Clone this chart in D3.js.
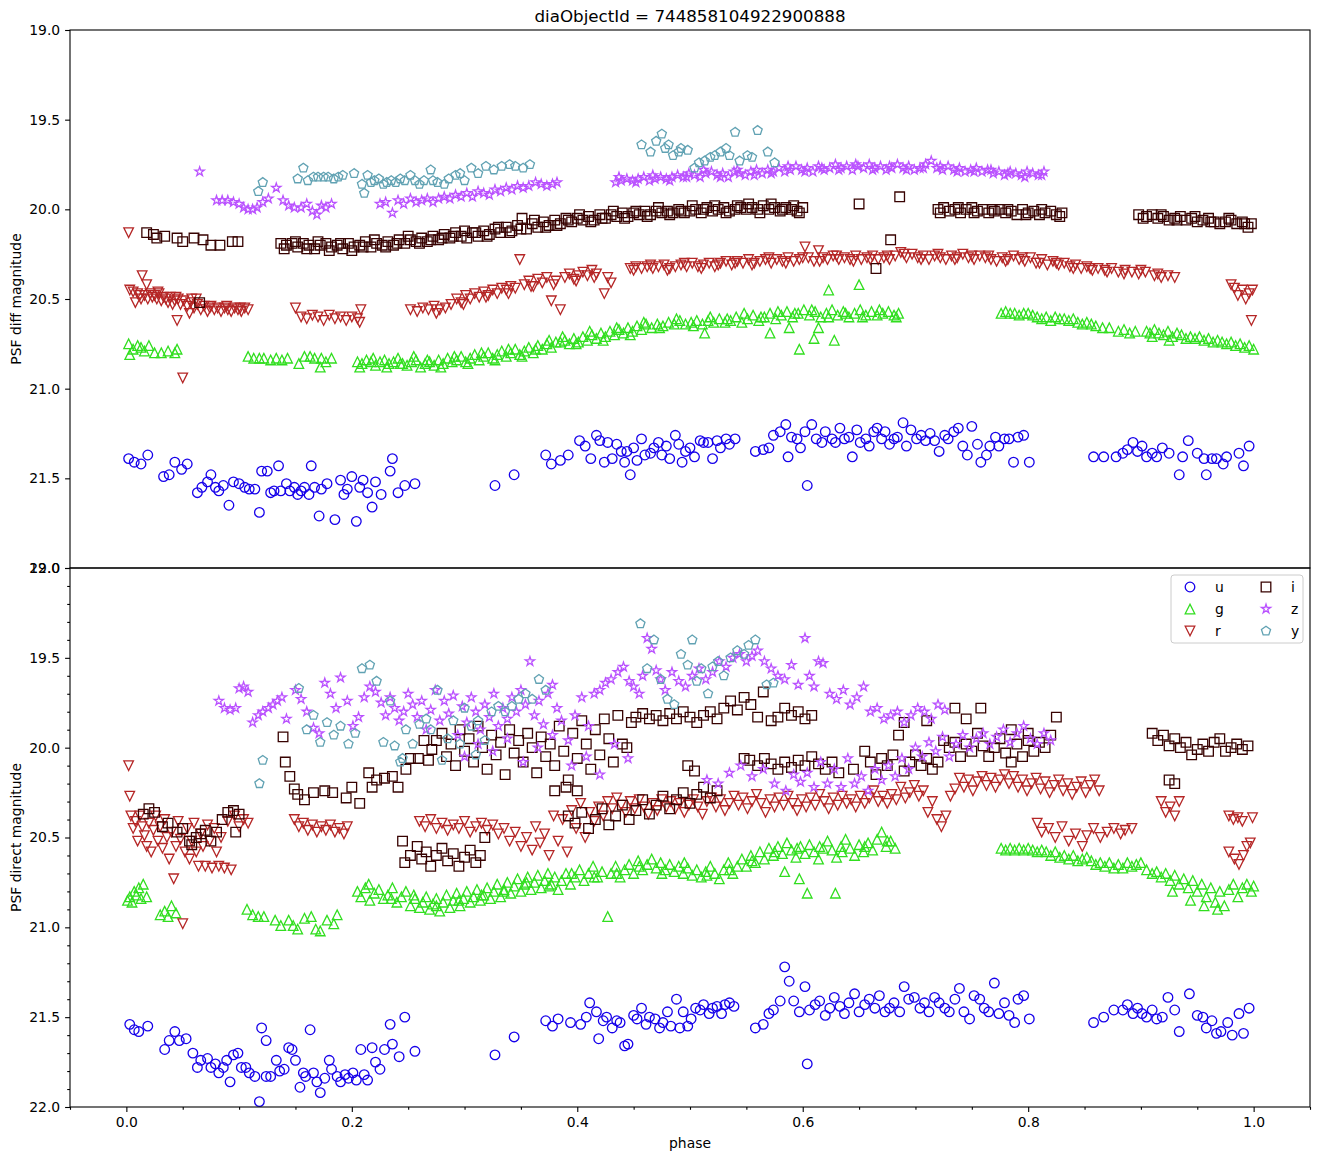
<!DOCTYPE html>
<html>
<head>
<meta charset="utf-8">
<script src="https://cdn.jsdelivr.net/npm/d3@7"></script>
<style>
  body { margin: 0; background: #fff; }
  svg text { font-family: "DejaVu Sans", sans-serif; fill: #000; }
</style>
</head>
<body>
<div id="chart"></div>
<script>
// Phase-folded light curve, two panels (diff / direct PSF magnitude)

const title = 'diaObjectId = 744858104922900888';
const bands = ['u', 'g', 'r', 'i', 'z', 'y'];
const bandColors = ['#1600ea', '#31de1f', '#b52626', '#370201', '#ba52ff', '#61a2b3'];
const bandMarkers = ['circle', 'triangleUp', 'triangleDown', 'square', 'star', 'pentagon'];
const xTicks = [0.0, 0.2, 0.4, 0.6, 0.8, 1.0];
const yTicks = [19.0, 19.5, 20.0, 20.5, 21.0, 21.5, 22.0];

// ---- top panel: PSF diff magnitude, [phase, mag] ----
const uTop = [[0.002,21.39],[0.007,21.41],[0.013,21.42],[0.019,21.37],[0.033,21.49],[0.038,21.48],[0.043,21.41],[0.049,21.45],[0.054,21.42],[0.063,21.58],[0.067,21.55],[0.072,21.52],[0.075,21.48],[0.079,21.55],[0.082,21.57],[0.086,21.54],[0.091,21.65],[0.095,21.52],[0.100,21.53],[0.105,21.55],[0.109,21.56],[0.114,21.56],[0.118,21.69],[0.120,21.46],[0.125,21.46],[0.128,21.58],[0.131,21.57],[0.135,21.43],[0.137,21.57],[0.142,21.53],[0.145,21.57],[0.149,21.55],[0.152,21.59],[0.155,21.57],[0.158,21.55],[0.162,21.59],[0.164,21.43],[0.167,21.55],[0.171,21.71],[0.173,21.56],[0.178,21.53],[0.185,21.73],[0.190,21.51],[0.193,21.59],[0.196,21.56],[0.200,21.49],[0.204,21.74],[0.207,21.55],[0.210,21.51],[0.214,21.58],[0.218,21.66],[0.221,21.52],[0.226,21.59],[0.234,21.46],[0.236,21.39],[0.241,21.58],[0.247,21.54],[0.256,21.53],[0.327,21.54],[0.344,21.48],[0.372,21.37],[0.377,21.42],[0.385,21.40],[0.392,21.37],[0.402,21.29],[0.407,21.32],[0.412,21.39],[0.417,21.26],[0.420,21.29],[0.424,21.41],[0.427,21.30],[0.431,21.39],[0.435,21.31],[0.439,21.35],[0.442,21.41],[0.444,21.35],[0.447,21.48],[0.450,21.33],[0.453,21.40],[0.457,21.28],[0.460,21.37],[0.465,21.36],[0.468,21.33],[0.472,21.30],[0.475,21.37],[0.479,21.32],[0.482,21.39],[0.487,21.26],[0.490,21.31],[0.493,21.41],[0.496,21.35],[0.500,21.33],[0.504,21.38],[0.509,21.29],[0.512,21.30],[0.516,21.30],[0.520,21.39],[0.524,21.29],[0.527,21.33],[0.532,21.28],[0.535,21.31],[0.540,21.28],[0.558,21.35],[0.565,21.34],[0.570,21.33],[0.574,21.26],[0.580,21.24],[0.585,21.20],[0.587,21.38],[0.590,21.27],[0.595,21.28],[0.598,21.33],[0.602,21.24],[0.604,21.54],[0.608,21.20],[0.612,21.28],[0.617,21.30],[0.620,21.24],[0.626,21.28],[0.629,21.30],[0.633,21.22],[0.637,21.28],[0.641,21.27],[0.644,21.38],[0.648,21.23],[0.651,21.30],[0.656,21.28],[0.659,21.32],[0.663,21.24],[0.666,21.22],[0.670,21.28],[0.673,21.24],[0.677,21.31],[0.681,21.28],[0.684,21.27],[0.689,21.19],[0.692,21.32],[0.696,21.23],[0.701,21.28],[0.705,21.26],[0.709,21.29],[0.713,21.25],[0.717,21.29],[0.721,21.35],[0.726,21.26],[0.729,21.28],[0.734,21.24],[0.738,21.22],[0.742,21.32],[0.746,21.37],[0.750,21.21],[0.755,21.31],[0.758,21.41],[0.763,21.37],[0.766,21.32],[0.771,21.27],[0.774,21.32],[0.779,21.28],[0.783,21.28],[0.787,21.41],[0.791,21.27],[0.796,21.26],[0.801,21.41],[0.858,21.38],[0.867,21.38],[0.878,21.38],[0.884,21.36],[0.888,21.34],[0.893,21.30],[0.897,21.35],[0.901,21.32],[0.905,21.38],[0.910,21.36],[0.914,21.38],[0.919,21.33],[0.925,21.36],[0.934,21.48],[0.937,21.38],[0.942,21.29],[0.950,21.36],[0.956,21.39],[0.958,21.48],[0.963,21.39],[0.967,21.39],[0.973,21.42],[0.976,21.38],[0.987,21.36],[0.991,21.43],[0.996,21.32]];

const gTop = [[0.002,20.75],[0.003,20.81],[0.006,20.78],[0.010,20.76],[0.013,20.77],[0.016,20.79],[0.020,20.76],[0.025,20.80],[0.031,20.80],[0.037,20.79],[0.043,20.80],[0.045,20.78],[0.108,20.82],[0.113,20.83],[0.118,20.83],[0.122,20.83],[0.128,20.84],[0.133,20.83],[0.138,20.84],[0.143,20.83],[0.153,20.86],[0.158,20.82],[0.163,20.82],[0.167,20.83],[0.172,20.88],[0.173,20.83],[0.177,20.85],[0.182,20.83],[0.205,20.85],[0.207,20.88],[0.209,20.86],[0.213,20.84],[0.217,20.85],[0.219,20.83],[0.221,20.87],[0.225,20.85],[0.229,20.84],[0.231,20.88],[0.233,20.86],[0.237,20.85],[0.241,20.83],[0.243,20.86],[0.245,20.86],[0.249,20.87],[0.253,20.85],[0.255,20.82],[0.257,20.84],[0.261,20.88],[0.265,20.86],[0.267,20.84],[0.269,20.85],[0.273,20.87],[0.277,20.84],[0.279,20.88],[0.281,20.86],[0.285,20.83],[0.289,20.85],[0.291,20.82],[0.293,20.84],[0.297,20.82],[0.301,20.85],[0.303,20.86],[0.305,20.83],[0.309,20.81],[0.313,20.84],[0.315,20.80],[0.317,20.82],[0.321,20.80],[0.325,20.83],[0.327,20.84],[0.329,20.81],[0.333,20.79],[0.337,20.82],[0.339,20.78],[0.341,20.80],[0.345,20.78],[0.349,20.81],[0.351,20.82],[0.353,20.79],[0.357,20.77],[0.361,20.80],[0.363,20.78],[0.365,20.76],[0.369,20.78],[0.373,20.75],[0.375,20.73],[0.377,20.77],[0.381,20.74],[0.385,20.74],[0.387,20.71],[0.389,20.73],[0.393,20.75],[0.397,20.72],[0.399,20.75],[0.401,20.74],[0.405,20.71],[0.409,20.73],[0.411,20.68],[0.413,20.70],[0.417,20.72],[0.421,20.69],[0.423,20.73],[0.425,20.71],[0.429,20.68],[0.433,20.70],[0.435,20.66],[0.437,20.67],[0.441,20.69],[0.445,20.66],[0.447,20.70],[0.449,20.68],[0.453,20.65],[0.457,20.67],[0.459,20.63],[0.461,20.64],[0.466,20.66],[0.471,20.64],[0.473,20.66],[0.476,20.65],[0.481,20.63],[0.486,20.64],[0.488,20.61],[0.491,20.62],[0.496,20.64],[0.501,20.63],[0.503,20.65],[0.506,20.62],[0.511,20.64],[0.513,20.69],[0.516,20.62],[0.518,20.60],[0.521,20.63],[0.526,20.61],[0.531,20.63],[0.533,20.61],[0.536,20.62],[0.541,20.60],[0.546,20.63],[0.548,20.58],[0.551,20.61],[0.556,20.59],[0.561,20.62],[0.563,20.60],[0.566,20.60],[0.571,20.58],[0.571,20.69],[0.576,20.61],[0.578,20.57],[0.581,20.59],[0.586,20.57],[0.588,20.66],[0.591,20.60],[0.593,20.58],[0.596,20.58],[0.597,20.78],[0.601,20.56],[0.606,20.59],[0.608,20.56],[0.610,20.72],[0.611,20.57],[0.614,20.66],[0.616,20.60],[0.621,20.58],[0.623,20.45],[0.623,20.60],[0.626,20.56],[0.628,20.73],[0.631,20.59],[0.636,20.57],[0.638,20.58],[0.641,20.60],[0.646,20.58],[0.650,20.42],[0.651,20.56],[0.653,20.60],[0.656,20.59],[0.661,20.57],[0.666,20.59],[0.668,20.56],[0.671,20.58],[0.676,20.57],[0.681,20.59],[0.683,20.60],[0.685,20.58],[0.776,20.58],[0.780,20.57],[0.784,20.58],[0.788,20.58],[0.792,20.59],[0.796,20.58],[0.800,20.58],[0.804,20.59],[0.808,20.60],[0.812,20.61],[0.816,20.60],[0.820,20.62],[0.824,20.60],[0.828,20.61],[0.832,20.61],[0.836,20.62],[0.840,20.61],[0.844,20.63],[0.848,20.64],[0.852,20.63],[0.856,20.64],[0.860,20.65],[0.866,20.66],[0.872,20.66],[0.880,20.68],[0.885,20.67],[0.890,20.69],[0.895,20.68],[0.905,20.68],[0.908,20.69],[0.910,20.71],[0.912,20.67],[0.916,20.69],[0.920,20.70],[0.924,20.68],[0.925,20.73],[0.928,20.71],[0.932,20.69],[0.936,20.70],[0.940,20.72],[0.944,20.71],[0.948,20.72],[0.952,20.71],[0.956,20.73],[0.960,20.72],[0.964,20.74],[0.968,20.73],[0.972,20.74],[0.976,20.75],[0.980,20.74],[0.984,20.76],[0.988,20.75],[0.992,20.77],[0.996,20.76],[1.000,20.78]];

const rTop = [[0.002,20.13],[0.003,20.45],[0.006,20.46],[0.008,20.52],[0.010,20.47],[0.012,20.48],[0.013,20.50],[0.014,20.37],[0.016,20.48],[0.018,20.42],[0.019,20.50],[0.021,20.47],[0.023,20.49],[0.025,20.48],[0.027,20.50],[0.028,20.46],[0.029,20.47],[0.031,20.51],[0.033,20.49],[0.035,20.50],[0.037,20.52],[0.039,20.49],[0.041,20.53],[0.043,20.51],[0.044,20.49],[0.045,20.62],[0.046,20.50],[0.048,20.53],[0.050,20.94],[0.051,20.51],[0.054,20.54],[0.056,20.58],[0.057,20.52],[0.058,20.50],[0.060,20.55],[0.062,20.50],[0.063,20.53],[0.066,20.56],[0.069,20.54],[0.072,20.57],[0.074,20.55],[0.075,20.54],[0.078,20.56],[0.081,20.55],[0.084,20.57],[0.087,20.55],[0.089,20.54],[0.090,20.56],[0.093,20.57],[0.096,20.55],[0.099,20.56],[0.101,20.55],[0.102,20.57],[0.105,20.55],[0.108,20.56],[0.150,20.55],[0.155,20.60],[0.160,20.61],[0.165,20.59],[0.170,20.60],[0.175,20.62],[0.180,20.59],[0.185,20.61],[0.190,20.60],[0.195,20.62],[0.200,20.60],[0.205,20.61],[0.207,20.63],[0.208,20.56],[0.252,20.56],[0.258,20.57],[0.263,20.55],[0.268,20.56],[0.273,20.54],[0.275,20.58],[0.278,20.56],[0.283,20.55],[0.288,20.53],[0.293,20.50],[0.297,20.52],[0.299,20.53],[0.301,20.48],[0.305,20.50],[0.309,20.47],[0.313,20.49],[0.317,20.46],[0.319,20.49],[0.321,20.48],[0.325,20.45],[0.329,20.47],[0.333,20.44],[0.337,20.45],[0.339,20.47],[0.341,20.43],[0.345,20.44],[0.349,20.28],[0.353,20.42],[0.357,20.40],[0.359,20.43],[0.361,20.43],[0.365,20.39],[0.369,20.41],[0.373,20.38],[0.377,20.51],[0.379,20.42],[0.381,20.40],[0.385,20.56],[0.389,20.38],[0.393,20.36],[0.397,20.39],[0.399,20.40],[0.401,20.37],[0.405,20.35],[0.409,20.37],[0.413,20.34],[0.415,20.38],[0.417,20.36],[0.424,20.47],[0.427,20.38],[0.430,20.41],[0.447,20.33],[0.450,20.34],[0.452,20.32],[0.457,20.33],[0.462,20.32],[0.465,20.31],[0.467,20.33],[0.472,20.32],[0.477,20.31],[0.480,20.34],[0.482,20.33],[0.487,20.32],[0.492,20.31],[0.495,20.30],[0.497,20.32],[0.502,20.30],[0.507,20.32],[0.510,20.33],[0.512,20.31],[0.517,20.30],[0.522,20.32],[0.525,20.31],[0.527,20.30],[0.532,20.29],[0.537,20.31],[0.540,20.30],[0.542,20.29],[0.547,20.30],[0.552,20.28],[0.555,20.31],[0.557,20.30],[0.562,20.29],[0.567,20.28],[0.570,20.27],[0.572,20.30],[0.577,20.28],[0.582,20.29],[0.585,20.30],[0.587,20.27],[0.592,20.29],[0.597,20.28],[0.600,20.27],[0.602,20.21],[0.605,20.27],[0.610,20.29],[0.614,20.23],[0.615,20.29],[0.618,20.27],[0.622,20.28],[0.627,20.26],[0.630,20.26],[0.632,20.28],[0.637,20.27],[0.642,20.28],[0.645,20.29],[0.647,20.26],[0.652,20.28],[0.657,20.27],[0.660,20.28],[0.662,20.26],[0.667,20.28],[0.672,20.27],[0.675,20.26],[0.677,20.28],[0.682,20.26],[0.687,20.24],[0.690,20.25],[0.692,20.27],[0.697,20.25],[0.702,20.27],[0.705,20.28],[0.707,20.26],[0.712,20.28],[0.717,20.26],[0.720,20.25],[0.722,20.27],[0.727,20.28],[0.732,20.26],[0.735,20.28],[0.737,20.27],[0.742,20.25],[0.747,20.27],[0.750,20.26],[0.752,20.28],[0.757,20.26],[0.762,20.27],[0.765,20.26],[0.767,20.28],[0.772,20.29],[0.777,20.27],[0.780,20.29],[0.782,20.28],[0.787,20.26],[0.792,20.28],[0.795,20.27],[0.797,20.29],[0.802,20.27],[0.807,20.30],[0.810,20.30],[0.812,20.28],[0.817,20.31],[0.822,20.29],[0.825,20.30],[0.827,20.31],[0.832,20.30],[0.837,20.32],[0.840,20.33],[0.842,20.31],[0.847,20.33],[0.852,20.32],[0.855,20.33],[0.857,20.34],[0.862,20.33],[0.868,20.34],[0.870,20.35],[0.874,20.33],[0.880,20.35],[0.885,20.36],[0.886,20.34],[0.892,20.35],[0.898,20.36],[0.900,20.34],[0.904,20.35],[0.912,20.37],[0.915,20.36],[0.918,20.38],[0.924,20.37],[0.930,20.38],[0.980,20.42],[0.983,20.44],[0.986,20.48],[0.990,20.45],[0.993,20.50],[0.996,20.47],[0.998,20.62],[0.999,20.45]];

const iTop = [[0.018,20.13],[0.024,20.14],[0.027,20.16],[0.034,20.15],[0.045,20.16],[0.050,20.18],[0.060,20.16],[0.065,20.52],[0.068,20.17],[0.075,20.20],[0.083,20.20],[0.094,20.18],[0.099,20.18],[0.137,20.19],[0.140,20.22],[0.142,20.20],[0.147,20.19],[0.150,20.18],[0.152,20.21],[0.157,20.19],[0.160,20.22],[0.162,20.20],[0.167,20.22],[0.170,20.18],[0.172,20.20],[0.177,20.19],[0.180,20.23],[0.182,20.21],[0.187,20.20],[0.190,20.19],[0.192,20.22],[0.197,20.19],[0.200,20.23],[0.202,20.21],[0.207,20.20],[0.210,20.21],[0.212,20.18],[0.217,20.21],[0.220,20.17],[0.222,20.19],[0.227,20.20],[0.230,20.21],[0.232,20.18],[0.237,20.20],[0.240,20.19],[0.242,20.17],[0.247,20.19],[0.250,20.15],[0.252,20.17],[0.257,20.18],[0.260,20.19],[0.262,20.16],[0.267,20.18],[0.270,20.17],[0.272,20.15],[0.277,20.17],[0.280,20.16],[0.282,20.14],[0.287,20.16],[0.290,20.15],[0.292,20.13],[0.297,20.15],[0.300,20.12],[0.302,20.16],[0.307,20.13],[0.310,20.13],[0.312,20.15],[0.317,20.12],[0.320,20.15],[0.322,20.14],[0.327,20.11],[0.330,20.10],[0.332,20.13],[0.337,20.10],[0.340,20.13],[0.342,20.12],[0.347,20.09],[0.350,20.11],[0.351,20.05],[0.355,20.11],[0.360,20.08],[0.362,20.06],[0.365,20.10],[0.370,20.07],[0.372,20.10],[0.375,20.09],[0.380,20.06],[0.382,20.09],[0.385,20.08],[0.390,20.05],[0.392,20.06],[0.395,20.07],[0.400,20.05],[0.402,20.03],[0.405,20.06],[0.410,20.04],[0.412,20.07],[0.415,20.06],[0.420,20.03],[0.422,20.05],[0.425,20.05],[0.430,20.03],[0.432,20.01],[0.435,20.04],[0.440,20.02],[0.442,20.05],[0.445,20.04],[0.450,20.02],[0.452,20.01],[0.455,20.03],[0.460,20.01],[0.462,20.04],[0.465,20.03],[0.470,20.01],[0.472,19.99],[0.475,20.02],[0.480,20.01],[0.482,20.03],[0.485,20.02],[0.490,20.00],[0.492,20.01],[0.495,20.02],[0.500,20.01],[0.502,19.98],[0.505,20.00],[0.510,20.02],[0.512,20.00],[0.515,19.99],[0.520,20.01],[0.522,19.98],[0.525,20.00],[0.530,19.99],[0.532,20.02],[0.535,20.01],[0.540,20.00],[0.542,19.98],[0.545,19.99],[0.550,20.00],[0.552,19.97],[0.555,19.99],[0.560,20.00],[0.562,20.02],[0.565,19.98],[0.570,20.00],[0.572,19.97],[0.575,19.99],[0.580,20.01],[0.582,20.00],[0.585,19.99],[0.590,20.00],[0.592,19.98],[0.595,20.01],[0.597,20.02],[0.600,19.99],[0.650,19.97],[0.665,20.33],[0.678,20.17],[0.686,19.93],[0.720,20.00],[0.722,20.02],[0.725,19.99],[0.730,20.01],[0.735,20.00],[0.738,19.99],[0.740,20.02],[0.745,20.00],[0.750,19.99],[0.752,20.02],[0.755,20.01],[0.760,20.00],[0.765,20.02],[0.768,20.00],[0.770,20.01],[0.775,20.00],[0.780,20.02],[0.782,20.00],[0.785,20.01],[0.790,20.03],[0.795,20.00],[0.798,20.03],[0.800,20.02],[0.805,20.01],[0.810,20.03],[0.812,20.00],[0.815,20.02],[0.820,20.01],[0.825,20.03],[0.828,20.04],[0.830,20.02],[0.898,20.03],[0.902,20.05],[0.905,20.04],[0.910,20.03],[0.915,20.05],[0.918,20.03],[0.920,20.04],[0.925,20.06],[0.930,20.05],[0.932,20.06],[0.935,20.04],[0.940,20.06],[0.945,20.05],[0.948,20.04],[0.950,20.07],[0.955,20.06],[0.960,20.05],[0.962,20.07],[0.965,20.07],[0.970,20.08],[0.975,20.07],[0.978,20.05],[0.980,20.06],[0.985,20.08],[0.990,20.07],[0.992,20.08],[0.995,20.10],[0.998,20.08]];

const zTop = [[0.065,19.79],[0.080,19.95],[0.085,19.95],[0.090,19.95],[0.095,19.96],[0.100,19.97],[0.104,19.99],[0.108,20.00],[0.112,20.00],[0.116,19.99],[0.121,19.96],[0.126,19.94],[0.133,19.88],[0.139,19.95],[0.144,19.98],[0.149,19.99],[0.155,19.99],[0.160,19.97],[0.165,20.01],[0.169,20.03],[0.173,19.98],[0.177,19.99],[0.182,19.97],[0.225,19.97],[0.230,19.96],[0.236,20.02],[0.241,19.95],[0.246,19.97],[0.252,19.94],[0.257,19.96],[0.262,19.95],[0.267,19.94],[0.272,19.96],[0.277,19.94],[0.282,19.93],[0.287,19.94],[0.292,19.92],[0.297,19.93],[0.302,19.91],[0.307,19.93],[0.312,19.90],[0.317,19.91],[0.322,19.92],[0.327,19.89],[0.332,19.90],[0.337,19.88],[0.342,19.89],[0.347,19.87],[0.352,19.88],[0.357,19.87],[0.363,19.85],[0.368,19.86],[0.373,19.87],[0.378,19.86],[0.382,19.85],[0.434,19.85],[0.437,19.82],[0.439,19.84],[0.444,19.83],[0.449,19.84],[0.452,19.85],[0.454,19.83],[0.459,19.82],[0.464,19.84],[0.467,19.81],[0.469,19.83],[0.474,19.82],[0.479,19.83],[0.482,19.84],[0.484,19.82],[0.489,19.81],[0.494,19.82],[0.497,19.82],[0.499,19.80],[0.504,19.81],[0.509,19.82],[0.512,19.78],[0.514,19.80],[0.519,19.79],[0.524,19.81],[0.527,19.82],[0.529,19.80],[0.534,19.82],[0.539,19.79],[0.542,19.78],[0.544,19.80],[0.549,19.81],[0.554,19.79],[0.557,19.81],[0.559,19.78],[0.564,19.80],[0.569,19.78],[0.572,19.80],[0.574,19.79],[0.579,19.77],[0.584,19.79],[0.587,19.76],[0.589,19.78],[0.594,19.76],[0.599,19.78],[0.602,19.79],[0.604,19.77],[0.609,19.79],[0.614,19.76],[0.617,19.77],[0.619,19.78],[0.624,19.77],[0.629,19.75],[0.632,19.78],[0.634,19.77],[0.639,19.76],[0.644,19.78],[0.647,19.75],[0.649,19.76],[0.654,19.77],[0.659,19.75],[0.662,19.78],[0.664,19.77],[0.669,19.76],[0.674,19.78],[0.677,19.76],[0.679,19.77],[0.684,19.75],[0.689,19.77],[0.692,19.78],[0.694,19.76],[0.699,19.78],[0.704,19.77],[0.707,19.77],[0.709,19.75],[0.714,19.73],[0.719,19.77],[0.722,19.76],[0.724,19.78],[0.729,19.76],[0.734,19.78],[0.737,19.79],[0.739,19.77],[0.744,19.79],[0.749,19.78],[0.752,19.79],[0.754,19.77],[0.759,19.79],[0.764,19.78],[0.767,19.78],[0.769,19.80],[0.774,19.79],[0.779,19.81],[0.782,19.80],[0.784,19.79],[0.789,19.80],[0.794,19.81],[0.797,19.82],[0.799,19.79],[0.804,19.80],[0.809,19.81],[0.812,19.81],[0.814,19.79]];

const yTop = [[0.117,19.90],[0.121,19.85],[0.152,19.83],[0.157,19.77],[0.161,19.84],[0.166,19.82],[0.170,19.82],[0.175,19.82],[0.179,19.82],[0.184,19.83],[0.188,19.82],[0.192,19.81],[0.202,19.80],[0.209,19.86],[0.211,19.91],[0.214,19.81],[0.217,19.85],[0.220,19.84],[0.224,19.83],[0.228,19.86],[0.231,19.85],[0.235,19.84],[0.239,19.85],[0.243,19.83],[0.247,19.84],[0.252,19.81],[0.256,19.84],[0.260,19.86],[0.264,19.84],[0.270,19.78],[0.272,19.84],[0.276,19.85],[0.282,19.86],[0.286,19.83],[0.292,19.81],[0.296,19.80],[0.300,19.84],[0.306,19.77],[0.312,19.80],[0.319,19.76],[0.326,19.78],[0.333,19.76],[0.340,19.75],[0.345,19.76],[0.352,19.77],[0.358,19.75],[0.457,19.64],[0.465,19.68],[0.470,19.62],[0.475,19.58],[0.478,19.66],[0.481,19.64],[0.485,19.70],[0.490,19.68],[0.492,19.66],[0.498,19.67],[0.504,19.77],[0.508,19.74],[0.513,19.73],[0.518,19.71],[0.522,19.70],[0.527,19.68],[0.532,19.66],[0.535,19.70],[0.540,19.57],[0.544,19.73],[0.551,19.70],[0.555,19.71],[0.560,19.56],[0.569,19.68],[0.575,19.74]];

// ---- bottom panel: PSF direct magnitude, [phase, mag] ----
const uBot = [[0.003,21.54],[0.007,21.57],[0.011,21.58],[0.019,21.55],[0.034,21.68],[0.038,21.63],[0.043,21.58],[0.047,21.63],[0.053,21.62],[0.059,21.70],[0.063,21.78],[0.066,21.74],[0.072,21.73],[0.075,21.78],[0.079,21.76],[0.082,21.81],[0.086,21.78],[0.089,21.74],[0.092,21.86],[0.095,21.71],[0.099,21.70],[0.102,21.78],[0.106,21.78],[0.109,21.81],[0.114,21.83],[0.118,21.97],[0.120,21.56],[0.124,21.63],[0.124,21.83],[0.128,21.83],[0.133,21.74],[0.136,21.80],[0.140,21.79],[0.144,21.67],[0.147,21.68],[0.150,21.74],[0.154,21.89],[0.157,21.81],[0.159,21.83],[0.163,21.57],[0.166,21.81],[0.169,21.86],[0.172,21.92],[0.176,21.84],[0.180,21.74],[0.182,21.79],[0.187,21.83],[0.190,21.86],[0.194,21.82],[0.197,21.84],[0.201,21.81],[0.204,21.85],[0.208,21.68],[0.211,21.82],[0.214,21.85],[0.218,21.67],[0.221,21.75],[0.225,21.79],[0.229,21.68],[0.234,21.54],[0.236,21.65],[0.242,21.72],[0.247,21.50],[0.256,21.69],[0.327,21.71],[0.344,21.61],[0.372,21.52],[0.378,21.55],[0.383,21.51],[0.394,21.53],[0.403,21.54],[0.408,21.50],[0.411,21.42],[0.417,21.47],[0.419,21.62],[0.423,21.52],[0.426,21.50],[0.431,21.56],[0.435,21.52],[0.438,21.53],[0.442,21.66],[0.445,21.65],[0.450,21.49],[0.453,21.51],[0.457,21.45],[0.461,21.54],[0.464,21.50],[0.469,21.51],[0.473,21.56],[0.476,21.53],[0.480,21.47],[0.483,21.55],[0.488,21.40],[0.491,21.56],[0.494,21.47],[0.498,21.55],[0.501,21.51],[0.505,21.45],[0.509,21.46],[0.512,21.43],[0.517,21.48],[0.520,21.45],[0.524,21.44],[0.528,21.48],[0.531,21.43],[0.535,21.42],[0.539,21.44],[0.558,21.56],[0.565,21.54],[0.570,21.48],[0.574,21.46],[0.580,21.41],[0.584,21.22],[0.588,21.30],[0.592,21.41],[0.597,21.47],[0.602,21.33],[0.604,21.76],[0.606,21.46],[0.611,21.43],[0.615,21.41],[0.620,21.49],[0.624,21.45],[0.628,21.39],[0.633,21.44],[0.637,21.48],[0.641,21.42],[0.646,21.37],[0.650,21.47],[0.655,21.43],[0.659,21.40],[0.664,21.45],[0.668,21.38],[0.673,21.47],[0.677,21.45],[0.681,21.42],[0.686,21.47],[0.690,21.33],[0.694,21.40],[0.699,21.39],[0.704,21.45],[0.708,21.42],[0.712,21.47],[0.717,21.39],[0.721,21.42],[0.726,21.45],[0.730,21.47],[0.735,21.40],[0.739,21.34],[0.743,21.47],[0.748,21.51],[0.752,21.38],[0.757,21.40],[0.761,21.45],[0.765,21.47],[0.770,21.31],[0.774,21.48],[0.779,21.42],[0.783,21.49],[0.788,21.53],[0.791,21.40],[0.796,21.38],[0.801,21.51],[0.858,21.53],[0.867,21.50],[0.876,21.46],[0.884,21.46],[0.888,21.43],[0.893,21.48],[0.897,21.45],[0.901,21.48],[0.905,21.50],[0.910,21.46],[0.914,21.51],[0.919,21.50],[0.924,21.39],[0.930,21.46],[0.934,21.58],[0.943,21.37],[0.950,21.49],[0.955,21.50],[0.958,21.56],[0.963,21.52],[0.967,21.59],[0.971,21.58],[0.977,21.53],[0.981,21.60],[0.987,21.48],[0.991,21.59],[0.996,21.45]];

const gBot = [[0.001,20.85],[0.003,20.83],[0.005,20.86],[0.007,20.80],[0.009,20.82],[0.011,20.78],[0.013,20.84],[0.015,20.76],[0.018,20.83],[0.030,20.93],[0.034,20.91],[0.037,20.94],[0.040,20.88],[0.044,20.92],[0.107,20.90],[0.112,20.93],[0.117,20.94],[0.122,20.94],[0.132,20.96],[0.137,20.99],[0.144,20.96],[0.148,20.99],[0.152,21.01],[0.158,20.95],[0.164,20.94],[0.168,21.01],[0.172,21.02],[0.178,20.96],[0.184,20.98],[0.187,20.93],[0.205,20.80],[0.208,20.83],[0.212,20.78],[0.215,20.76],[0.216,20.85],[0.220,20.81],[0.224,20.79],[0.228,20.84],[0.232,20.82],[0.235,20.84],[0.236,20.78],[0.240,20.86],[0.244,20.83],[0.248,20.80],[0.252,20.88],[0.255,20.82],[0.256,20.84],[0.260,20.89],[0.263,20.86],[0.266,20.83],[0.269,20.90],[0.272,20.87],[0.275,20.84],[0.275,20.88],[0.278,20.91],[0.281,20.86],[0.284,20.82],[0.287,20.89],[0.290,20.85],[0.293,20.81],[0.295,20.85],[0.296,20.88],[0.299,20.84],[0.302,20.80],[0.305,20.86],[0.308,20.83],[0.311,20.79],[0.314,20.85],[0.315,20.82],[0.317,20.82],[0.320,20.78],[0.323,20.84],[0.326,20.80],[0.329,20.76],[0.332,20.83],[0.335,20.79],[0.335,20.80],[0.338,20.75],[0.341,20.81],[0.344,20.77],[0.347,20.73],[0.350,20.80],[0.353,20.76],[0.355,20.75],[0.356,20.72],[0.359,20.79],[0.362,20.75],[0.365,20.71],[0.368,20.78],[0.371,20.74],[0.374,20.70],[0.375,20.77],[0.377,20.76],[0.380,20.72],[0.383,20.79],[0.386,20.74],[0.390,20.70],[0.394,20.76],[0.395,20.70],[0.398,20.72],[0.402,20.68],[0.406,20.74],[0.410,20.70],[0.414,20.66],[0.415,20.72],[0.418,20.72],[0.422,20.69],[0.427,20.94],[0.430,20.70],[0.434,20.66],[0.435,20.70],[0.438,20.72],[0.442,20.68],[0.446,20.65],[0.450,20.70],[0.454,20.63],[0.455,20.66],[0.458,20.68],[0.462,20.65],[0.466,20.62],[0.470,20.67],[0.474,20.64],[0.475,20.70],[0.478,20.68],[0.482,20.65],[0.486,20.69],[0.490,20.66],[0.494,20.70],[0.495,20.64],[0.498,20.67],[0.502,20.71],[0.506,20.68],[0.510,20.72],[0.514,20.69],[0.515,20.71],[0.518,20.66],[0.522,20.70],[0.526,20.73],[0.530,20.68],[0.534,20.64],[0.535,20.68],[0.538,20.70],[0.542,20.66],[0.546,20.62],[0.550,20.66],[0.554,20.60],[0.555,20.63],[0.558,20.64],[0.562,20.58],[0.566,20.62],[0.570,20.56],[0.574,20.60],[0.575,20.58],[0.578,20.55],[0.582,20.59],[0.584,20.69],[0.586,20.53],[0.590,20.57],[0.594,20.61],[0.595,20.56],[0.597,20.73],[0.598,20.55],[0.602,20.59],[0.604,20.81],[0.606,20.54],[0.610,20.58],[0.614,20.62],[0.615,20.55],[0.618,20.56],[0.622,20.52],[0.626,20.57],[0.629,20.81],[0.630,20.61],[0.634,20.55],[0.635,20.58],[0.638,20.51],[0.642,20.56],[0.646,20.60],[0.650,20.54],[0.654,20.58],[0.655,20.55],[0.658,20.53],[0.662,20.57],[0.666,20.51],[0.670,20.47],[0.674,20.55],[0.675,20.52],[0.678,20.52],[0.682,20.56],[0.776,20.56],[0.780,20.57],[0.784,20.56],[0.788,20.57],[0.792,20.56],[0.796,20.57],[0.800,20.56],[0.804,20.57],[0.808,20.58],[0.812,20.57],[0.816,20.58],[0.820,20.60],[0.824,20.58],[0.828,20.61],[0.832,20.60],[0.836,20.62],[0.840,20.60],[0.844,20.63],[0.848,20.62],[0.852,20.61],[0.856,20.63],[0.860,20.65],[0.864,20.64],[0.868,20.66],[0.872,20.64],[0.876,20.67],[0.880,20.65],[0.884,20.67],[0.888,20.64],[0.892,20.66],[0.896,20.65],[0.900,20.64],[0.905,20.68],[0.910,20.70],[0.914,20.69],[0.918,20.72],[0.922,20.70],[0.926,20.74],[0.928,20.80],[0.930,20.71],[0.934,20.76],[0.938,20.73],[0.942,20.78],[0.944,20.85],[0.946,20.74],[0.950,20.80],[0.954,20.76],[0.956,20.88],[0.958,20.83],[0.962,20.78],[0.966,20.86],[0.968,20.90],[0.970,20.80],[0.974,20.88],[0.978,20.79],[0.982,20.76],[0.986,20.83],[0.990,20.78],[0.994,20.76],[0.998,20.80],[1.000,20.77]];

const rBot = [[0.002,20.10],[0.003,20.27],[0.004,20.38],[0.006,20.45],[0.008,20.41],[0.010,20.52],[0.012,20.38],[0.014,20.44],[0.016,20.49],[0.018,20.55],[0.020,20.42],[0.022,20.58],[0.024,20.46],[0.026,20.38],[0.028,20.52],[0.030,20.44],[0.032,20.56],[0.034,20.40],[0.036,20.50],[0.038,20.62],[0.040,20.47],[0.042,20.73],[0.044,20.55],[0.046,20.41],[0.048,20.51],[0.050,20.98],[0.052,20.58],[0.054,20.45],[0.056,20.62],[0.058,20.52],[0.060,20.42],[0.062,20.58],[0.064,20.66],[0.066,20.48],[0.068,20.55],[0.070,20.66],[0.072,20.43],[0.074,20.52],[0.076,20.67],[0.078,20.45],[0.080,20.58],[0.082,20.66],[0.084,20.50],[0.087,20.67],[0.090,20.41],[0.093,20.68],[0.096,20.38],[0.100,20.44],[0.104,20.40],[0.108,20.42],[0.149,20.40],[0.153,20.44],[0.157,20.42],[0.161,20.46],[0.165,20.43],[0.169,20.47],[0.173,20.44],[0.177,20.46],[0.181,20.43],[0.185,20.47],[0.189,20.45],[0.193,20.48],[0.196,20.44],[0.260,20.41],[0.265,20.44],[0.270,20.40],[0.275,20.45],[0.280,20.42],[0.285,20.46],[0.290,20.43],[0.295,20.45],[0.300,20.41],[0.305,20.47],[0.310,20.44],[0.315,20.42],[0.320,20.46],[0.325,20.43],[0.330,20.48],[0.335,20.45],[0.340,20.52],[0.345,20.47],[0.350,20.55],[0.355,20.50],[0.360,20.57],[0.363,20.44],[0.367,20.53],[0.371,20.48],[0.375,20.60],[0.379,20.38],[0.383,20.52],[0.387,20.40],[0.391,20.58],[0.395,20.35],[0.399,20.45],[0.403,20.31],[0.407,20.50],[0.411,20.36],[0.415,20.41],[0.419,20.33],[0.423,20.38],[0.427,20.30],[0.431,20.34],[0.435,20.28],[0.439,20.32],[0.443,20.36],[0.447,20.30],[0.451,20.34],[0.455,20.29],[0.459,20.33],[0.463,20.37],[0.467,20.31],[0.471,20.35],[0.475,20.29],[0.479,20.33],[0.483,20.30],[0.487,20.34],[0.491,20.31],[0.495,20.36],[0.499,20.32],[0.503,20.29],[0.507,20.33],[0.511,20.37],[0.515,20.30],[0.519,20.28],[0.523,20.33],[0.527,20.29],[0.531,20.35],[0.535,20.31],[0.539,20.27],[0.543,20.32],[0.547,20.28],[0.551,20.34],[0.555,20.30],[0.559,20.26],[0.563,20.31],[0.567,20.36],[0.571,20.29],[0.575,20.33],[0.579,20.28],[0.583,20.32],[0.587,20.27],[0.591,20.31],[0.595,20.35],[0.599,20.29],[0.603,20.33],[0.607,20.28],[0.611,20.32],[0.615,20.26],[0.619,20.30],[0.623,20.34],[0.627,20.28],[0.631,20.32],[0.635,20.27],[0.639,20.31],[0.643,20.29],[0.647,20.33],[0.651,20.27],[0.655,20.31],[0.659,20.28],[0.663,20.24],[0.667,20.30],[0.671,20.27],[0.675,20.31],[0.679,20.26],[0.683,20.29],[0.687,20.22],[0.691,20.28],[0.695,20.25],[0.699,20.21],[0.703,20.27],[0.707,20.24],[0.711,20.36],[0.715,20.30],[0.719,20.40],[0.723,20.44],[0.727,20.38],[0.731,20.27],[0.735,20.23],[0.739,20.17],[0.743,20.22],[0.747,20.18],[0.751,20.24],[0.755,20.19],[0.759,20.16],[0.763,20.21],[0.767,20.17],[0.771,20.22],[0.775,20.18],[0.779,20.15],[0.783,20.20],[0.787,20.16],[0.791,20.22],[0.795,20.18],[0.799,20.24],[0.803,20.20],[0.807,20.17],[0.808,20.42],[0.811,20.23],[0.812,20.47],[0.815,20.19],[0.818,20.45],[0.819,20.25],[0.823,20.21],[0.824,20.50],[0.827,20.18],[0.830,20.44],[0.831,20.24],[0.835,20.20],[0.836,20.52],[0.839,20.26],[0.842,20.48],[0.843,20.22],[0.847,20.19],[0.848,20.55],[0.851,20.25],[0.852,20.49],[0.855,20.21],[0.858,20.45],[0.859,20.18],[0.863,20.24],[0.864,20.50],[0.870,20.47],[0.876,20.45],[0.882,20.48],[0.886,20.46],[0.892,20.45],[0.918,20.30],[0.922,20.36],[0.926,20.33],[0.930,20.38],[0.934,20.30],[0.978,20.38],[0.978,20.58],[0.982,20.40],[0.983,20.62],[0.986,20.39],[0.987,20.65],[0.990,20.41],[0.991,20.60],[0.994,20.55],[0.997,20.53],[0.999,20.39]];

const iBot = [[0.015,20.37],[0.020,20.34],[0.025,20.36],[0.032,20.44],[0.037,20.42],[0.045,20.47],[0.050,20.45],[0.056,20.52],[0.058,20.54],[0.062,20.50],[0.066,20.48],[0.070,20.46],[0.075,20.52],[0.080,20.47],[0.085,20.40],[0.090,20.36],[0.095,20.35],[0.097,20.47],[0.100,20.37],[0.139,19.94],[0.141,20.08],[0.145,20.16],[0.149,20.23],[0.152,20.26],[0.158,20.29],[0.166,20.25],[0.176,20.24],[0.183,20.25],[0.195,20.28],[0.200,20.22],[0.207,20.31],[0.215,20.14],[0.218,20.22],[0.222,20.18],[0.229,20.17],[0.236,20.16],[0.241,20.22],[0.245,20.52],[0.247,20.64],[0.248,20.12],[0.252,20.06],[0.252,20.60],[0.258,20.55],[0.259,20.06],[0.262,20.62],[0.264,19.96],[0.266,20.58],[0.268,20.07],[0.270,20.66],[0.271,20.01],[0.275,19.96],[0.275,20.60],[0.280,19.92],[0.280,20.56],[0.284,20.05],[0.285,20.63],[0.288,19.98],[0.290,20.59],[0.292,20.10],[0.295,20.66],[0.296,19.90],[0.300,20.02],[0.300,20.61],[0.304,19.95],[0.305,20.57],[0.308,20.08],[0.310,20.64],[0.312,19.88],[0.314,20.60],[0.316,20.00],[0.318,20.50],[0.320,20.12],[0.324,19.93],[0.328,20.04],[0.332,19.97],[0.336,20.15],[0.340,19.90],[0.344,20.03],[0.348,19.96],[0.352,20.08],[0.356,19.92],[0.360,20.00],[0.364,20.14],[0.368,19.94],[0.372,20.05],[0.376,19.98],[0.380,20.24],[0.380,20.10],[0.384,19.88],[0.388,20.02],[0.390,20.22],[0.392,20.18],[0.392,20.38],[0.396,19.92],[0.398,20.42],[0.400,20.06],[0.400,20.24],[0.404,19.85],[0.404,20.36],[0.408,19.98],[0.410,20.45],[0.412,20.12],[0.416,19.90],[0.416,20.40],[0.420,20.04],[0.422,20.34],[0.424,19.84],[0.428,19.95],[0.428,20.43],[0.432,20.08],[0.434,20.38],[0.436,19.82],[0.440,19.98],[0.440,20.32],[0.444,20.00],[0.446,20.40],[0.448,19.86],[0.452,19.83],[0.452,20.35],[0.458,19.81],[0.458,20.29],[0.464,19.84],[0.464,20.37],[0.470,19.82],[0.470,20.32],[0.476,19.85],[0.476,20.27],[0.482,19.81],[0.482,20.34],[0.488,19.84],[0.488,20.29],[0.494,19.80],[0.494,20.25],[0.498,20.10],[0.500,19.83],[0.500,20.31],[0.504,20.13],[0.506,19.86],[0.506,20.26],[0.512,19.82],[0.512,20.22],[0.518,19.80],[0.518,20.28],[0.524,19.84],[0.524,20.24],[0.530,19.78],[0.536,19.74],[0.542,19.79],[0.548,19.72],[0.548,20.06],[0.553,20.07],[0.554,19.76],[0.560,19.83],[0.560,20.10],[0.565,19.69],[0.566,20.06],[0.572,19.85],[0.572,20.09],[0.578,19.83],[0.578,20.12],[0.584,19.78],[0.584,20.08],[0.590,19.82],[0.590,20.11],[0.596,19.80],[0.596,20.07],[0.602,19.84],[0.602,20.10],[0.608,19.82],[0.608,20.05],[0.614,20.09],[0.620,20.12],[0.626,20.08],[0.632,20.14],[0.645,20.12],[0.655,20.02],[0.660,20.08],[0.665,20.15],[0.670,20.06],[0.675,20.10],[0.680,20.04],[0.685,19.93],[0.690,19.86],[0.690,20.13],[0.695,20.08],[0.700,20.04],[0.705,20.10],[0.710,19.85],[0.710,20.06],[0.715,20.12],[0.720,20.08],[0.725,19.96],[0.730,20.00],[0.735,19.78],[0.735,19.97],[0.740,20.05],[0.745,19.84],[0.745,19.98],[0.750,20.02],[0.755,19.92],[0.758,19.78],[0.760,19.99],[0.765,20.05],[0.770,20.00],[0.775,19.95],[0.780,20.03],[0.785,19.90],[0.785,20.08],[0.790,19.98],[0.795,20.05],[0.800,19.92],[0.800,19.96],[0.805,20.02],[0.810,19.97],[0.815,20.00],[0.820,19.93],[0.825,19.83],[0.910,19.92],[0.915,19.96],[0.920,19.93],[0.925,19.99],[0.925,20.18],[0.930,19.95],[0.930,20.20],[0.935,20.00],[0.940,19.97],[0.945,20.04],[0.950,20.01],[0.955,19.98],[0.960,20.02],[0.965,19.97],[0.970,19.95],[0.975,20.02],[0.980,20.00],[0.985,19.98],[0.990,20.01],[0.995,19.99]];

const zBot = [[0.082,19.74],[0.087,19.78],[0.092,19.79],[0.097,19.78],[0.100,19.67],[0.104,19.66],[0.108,19.69],[0.112,19.86],[0.117,19.82],[0.121,19.80],[0.126,19.78],[0.130,19.76],[0.134,19.74],[0.138,19.72],[0.142,19.84],[0.150,19.68],[0.155,19.73],[0.160,19.80],[0.166,19.89],[0.171,19.92],[0.176,19.64],[0.181,19.70],[0.186,19.78],[0.190,19.61],[0.196,19.74],[0.201,19.88],[0.206,19.83],[0.211,19.72],[0.216,19.66],[0.221,19.69],[0.226,19.75],[0.230,19.82],[0.234,19.72],[0.238,19.78],[0.242,19.85],[0.246,19.80],[0.250,19.70],[0.254,19.76],[0.258,19.83],[0.262,19.74],[0.266,19.90],[0.270,19.79],[0.274,19.68],[0.278,19.85],[0.282,19.74],[0.286,19.81],[0.290,19.71],[0.294,19.93],[0.298,19.77],[0.300,20.05],[0.302,19.86],[0.306,19.72],[0.310,19.80],[0.312,19.98],[0.314,19.90],[0.318,19.76],[0.322,19.83],[0.325,20.02],[0.326,19.70],[0.330,19.88],[0.334,19.78],[0.338,19.84],[0.338,19.95],[0.342,19.72],[0.346,19.80],[0.350,19.68],[0.352,20.08],[0.354,19.76],[0.358,19.52],[0.362,19.82],[0.365,20.00],[0.366,19.74],[0.370,19.87],[0.374,19.70],[0.378,19.65],[0.378,19.93],[0.382,19.78],[0.386,19.85],[0.392,19.96],[0.395,20.10],[0.398,19.82],[0.404,19.72],[0.408,20.05],[0.410,19.88],[0.415,19.70],[0.420,19.68],[0.420,20.15],[0.425,19.64],[0.430,19.62],[0.433,19.98],[0.436,19.58],[0.441,19.55],[0.445,20.06],[0.446,19.63],[0.450,19.66],[0.455,19.70],[0.458,19.60],[0.462,19.39],[0.466,19.45],[0.470,19.57],[0.474,19.62],[0.478,19.68],[0.484,19.58],[0.490,19.63],[0.496,19.66],[0.502,19.60],[0.508,19.56],[0.514,19.62],[0.515,20.18],[0.520,19.58],[0.525,20.20],[0.526,19.52],[0.532,19.55],[0.535,20.14],[0.538,19.50],[0.544,19.48],[0.545,20.10],[0.550,19.52],[0.555,19.49],[0.555,20.16],[0.560,19.46],[0.565,20.12],[0.566,19.52],[0.572,19.56],[0.575,20.20],[0.578,19.60],[0.584,19.62],[0.585,20.24],[0.590,19.54],[0.592,20.15],[0.596,19.65],[0.598,20.19],[0.602,19.39],[0.604,20.14],[0.606,19.60],[0.610,19.66],[0.610,20.22],[0.614,19.52],[0.616,20.08],[0.618,19.53],[0.622,20.20],[0.624,19.70],[0.628,20.12],[0.630,19.73],[0.634,20.22],[0.636,19.68],[0.640,20.06],[0.642,19.76],[0.646,20.20],[0.648,19.72],[0.652,20.16],[0.654,19.66],[0.658,20.24],[0.660,19.80],[0.664,20.12],[0.666,19.78],[0.670,20.18],[0.672,19.84],[0.676,20.10],[0.678,19.82],[0.682,20.16],[0.684,19.80],[0.688,20.06],[0.690,19.86],[0.694,20.12],[0.696,19.82],[0.700,20.00],[0.702,19.78],[0.706,20.05],[0.708,19.80],[0.712,19.97],[0.714,19.84],[0.718,20.02],[0.720,19.76],[0.724,19.94],[0.726,19.79],[0.730,20.05],[0.736,19.98],[0.742,19.93],[0.748,20.00],[0.754,19.95],[0.760,19.92],[0.766,19.98],[0.772,19.94],[0.778,19.90],[0.784,19.97],[0.790,19.92],[0.796,19.88],[0.802,19.95],[0.808,19.98],[0.814,19.92],[0.820,19.96]];

const yBot = [[0.118,20.20],[0.121,20.07],[0.153,19.67],[0.160,19.90],[0.166,19.82],[0.172,19.97],[0.178,19.86],[0.184,19.93],[0.190,19.88],[0.197,19.98],[0.203,19.92],[0.209,19.56],[0.216,19.54],[0.222,19.63],[0.228,19.97],[0.234,19.74],[0.238,19.99],[0.243,20.08],[0.245,20.06],[0.248,19.90],[0.254,19.98],[0.260,19.87],[0.266,19.84],[0.270,19.90],[0.276,19.68],[0.280,20.07],[0.285,19.95],[0.290,19.85],[0.296,19.98],[0.300,19.78],[0.306,19.88],[0.310,20.04],[0.312,19.85],[0.318,19.96],[0.324,19.80],[0.330,19.77],[0.336,19.80],[0.342,19.77],[0.348,19.73],[0.354,19.70],[0.360,19.73],[0.366,19.62],[0.372,19.68],[0.456,19.31],[0.462,19.56],[0.468,19.40],[0.474,19.62],[0.480,19.73],[0.486,19.76],[0.492,19.48],[0.498,19.54],[0.502,19.40],[0.506,19.63],[0.510,19.56],[0.516,19.70],[0.520,19.55],[0.525,19.52],[0.530,19.60],[0.536,19.50],[0.542,19.46],[0.548,19.48],[0.552,19.43],[0.558,19.40],[0.568,19.65],[0.574,19.64]];

const topSeries = [uTop, gTop, rTop, iTop, zTop, yTop];
const botSeries = [uBot, gBot, rBot, iBot, zBot, yBot];

// ---- layout ----
const W = 1320, H = 1161;
const left = 70, right = 1310;
const topY0 = 30, midY = 568, botY1 = 1107;
const fontSize = 13.9;
const markerSize = 9.6;

const svg = d3.select('#chart').append('svg')
    .attr('width', W)
    .attr('height', H)
    .style('display', 'block');

svg.append('rect').attr('width', W).attr('height', H).attr('fill', '#fff');

const x = d3.scaleLinear().domain([-0.05, 1.05]).range([left, right]);
const yTopScale = d3.scaleLinear().domain([19, 22]).range([topY0, midY]);
const yBotScale = d3.scaleLinear().domain([19, 22]).range([midY, botY1]);

// matplotlib-like marker outlines
function markerPath(type, s) {
    const h = s / 2;
    if (type === 'circle') {
        return `M${h},0A${h},${h} 0 1,1 ${-h},0A${h},${h} 0 1,1 ${h},0Z`;
    }
    if (type === 'square') {
        return `M${-h},${-h}H${h}V${h}H${-h}Z`;
    }
    if (type === 'triangleUp') {
        return `M0,${-h}L${-h},${h}L${h},${h}Z`;
    }
    if (type === 'triangleDown') {
        return `M0,${h}L${-h},${-h}L${h},${-h}Z`;
    }
    let pts = [];
    if (type === 'pentagon') {
        for (let k = 0; k < 5; k++) {
            const a = Math.PI / 2 + k * 2 * Math.PI / 5;
            pts.push([h * Math.cos(a), -h * Math.sin(a)]);
        }
    } else { // star
        for (let k = 0; k < 10; k++) {
            const a = Math.PI / 2 + k * Math.PI / 5;
            const r = k % 2 === 0 ? h : h * 0.381966;
            pts.push([r * Math.cos(a), -r * Math.sin(a)]);
        }
    }
    return 'M' + pts.map(p => p[0].toFixed(2) + ',' + p[1].toFixed(2)).join('L') + 'Z';
}

function styleAxis(g) {
    g.select('.domain').remove();
    g.selectAll('.tick line').attr('stroke', '#000').attr('stroke-width', 1.1);
    g.selectAll('.tick text')
        .attr('font-size', fontSize)
        .attr('font-family', '"DejaVu Sans", sans-serif')
        .attr('fill', '#000');
}

function drawPanel(yScale, series, y0, y1, withMinor) {
    const panel = svg.append('g');

    // markers
    series.forEach((data, bi) => {
        const path = markerPath(bandMarkers[bi], markerSize);
        panel.append('g')
            .selectAll('path')
            .data(data)
            .join('path')
            .attr('d', path)
            .attr('transform', d => `translate(${x(d[0])},${yScale(d[1])})`)
            .attr('fill', 'none')
            .attr('stroke', bandColors[bi])
            .attr('stroke-width', 1.3);
    });

    // y axis
    const yAxis = d3.axisLeft(yScale)
        .tickValues(yTicks)
        .tickFormat(d3.format('.1f'))
        .tickSize(4.9)
        .tickPadding(4.9);
    panel.append('g')
        .attr('transform', `translate(${left},0)`)
        .call(yAxis)
        .call(styleAxis);

    if (withMinor) {
        const minorY = d3.range(19.1, 22.0, 0.1).filter(v => Math.abs(v * 2 - Math.round(v * 2)) > 0.01);
        panel.append('g')
            .attr('transform', `translate(${left},0)`)
            .call(d3.axisLeft(yScale).tickValues(minorY).tickFormat('').tickSize(2.8))
            .call(styleAxis);
    }

    // frame
    panel.append('rect')
        .attr('x', left).attr('y', y0)
        .attr('width', right - left).attr('height', y1 - y0)
        .attr('fill', 'none').attr('stroke', '#000').attr('stroke-width', 1.1);
    return panel;
}

drawPanel(yTopScale, topSeries, topY0, midY, false);
drawPanel(yBotScale, botSeries, midY, botY1, true);

// x axis on bottom panel
svg.append('g')
    .attr('transform', `translate(0,${botY1})`)
    .call(d3.axisBottom(x).tickValues(xTicks).tickFormat(d3.format('.1f')).tickSize(4.9).tickPadding(4.9))
    .call(styleAxis);

const minorX = d3.range(-0.05, 1.06, 0.05).filter(v => Math.abs(v * 5 - Math.round(v * 5)) > 0.01);
svg.append('g')
    .attr('transform', `translate(0,${botY1})`)
    .call(d3.axisBottom(x).tickValues(minorX).tickFormat('').tickSize(2.8))
    .call(styleAxis);

// titles and labels
svg.append('text')
    .attr('x', (left + right) / 2)
    .attr('y', 22)
    .attr('text-anchor', 'middle')
    .attr('font-size', 16.7)
    .text(title);

svg.append('text')
    .attr('text-anchor', 'middle')
    .attr('transform', `translate(21,${(topY0 + midY) / 2}) rotate(-90)`)
    .attr('font-size', fontSize)
    .text('PSF diff magnitude');

svg.append('text')
    .attr('text-anchor', 'middle')
    .attr('transform', `translate(21,${(midY + botY1) / 2}) rotate(-90)`)
    .attr('font-size', fontSize)
    .text('PSF direct magnitude');

svg.append('text')
    .attr('x', (left + right) / 2)
    .attr('y', 1148)
    .attr('text-anchor', 'middle')
    .attr('font-size', fontSize)
    .text('phase');

// legend, two columns
const legend = svg.append('g');
legend.append('rect')
    .attr('x', 1171).attr('y', 575)
    .attr('width', 132).attr('height', 68)
    .attr('rx', 3)
    .attr('fill', '#fff').attr('fill-opacity', 0.8)
    .attr('stroke', '#cccccc').attr('stroke-width', 1);

bands.forEach((b, bi) => {
    const col = Math.floor(bi / 3);
    const row = bi % 3;
    const mx = 1190 + col * 76;
    const my = 587 + row * 22;
    legend.append('path')
        .attr('d', markerPath(bandMarkers[bi], markerSize))
        .attr('transform', `translate(${mx},${my})`)
        .attr('fill', 'none')
        .attr('stroke', bandColors[bi])
        .attr('stroke-width', 1.3);
    legend.append('text')
        .attr('x', mx + 25)
        .attr('y', my + 5)
        .attr('font-size', fontSize)
        .text(b);
});
</script>
</body>
</html>
